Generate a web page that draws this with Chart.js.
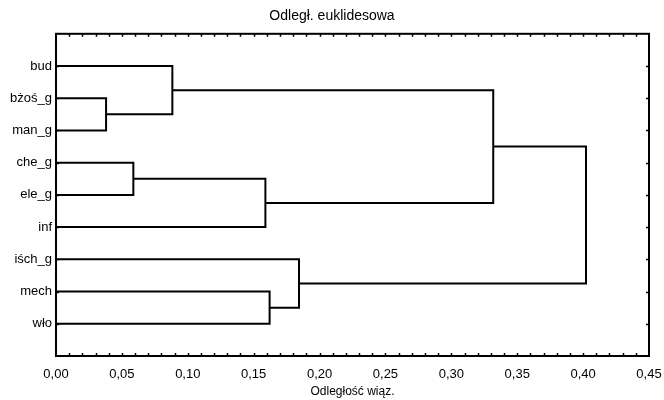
<!DOCTYPE html>
<html>
<head>
<meta charset="utf-8">
<script src="https://cdn.jsdelivr.net/npm/chart.js@4"></script>
<style>
html,body{margin:0;padding:0;background:#fff;}
#wrap{width:664px;height:400px;position:relative;}
</style>
</head>
<body>
<div id="wrap"><canvas id="c"></canvas></div>
<script>
// Leaf labels in plotted order (top to bottom)
const leaves = ['bud', 'bżoś_g', 'man_g', 'che_g', 'ele_g', 'inf', 'iśch_g', 'mech', 'wło'];
// Merge steps: left child, right child (leaf name or merge id 'M1'..), linkage distance
const mergeLeft  = ['bżoś_g', 'che_g', 'bud', 'M2',    'mech',  'iśch_g', 'M3',    'M7'];
const mergeRight = ['man_g',  'ele_g', 'M1',  'inf',   'wło',   'M5',     'M4',    'M6'];
const mergeDist  = [0.0380,   0.0587,  0.0883, 0.1589, 0.1621,  0.1844,   0.3318,  0.4022];
const xTicks = [0, 0.05, 0.10, 0.15, 0.20, 0.25, 0.30, 0.35, 0.40, 0.45];
const chartTitle = 'Odległ. euklidesowa';
const xTitle = 'Odległość wiąz.';

const FONT = 'Liberation Sans, Arial, Helvetica, sans-serif';

// Build node lookup (position along category axis + height)
const nodes = {};
leaves.forEach((n, i) => { nodes[n] = { y: i + 1, h: 0 }; });
const datasets = [];
mergeDist.forEach((d, i) => {
  const L = nodes[mergeLeft[i]], R = nodes[mergeRight[i]];
  datasets.push({
    data: [{x: L.h, y: L.y}, {x: d, y: L.y}, {x: d, y: R.y}, {x: R.h, y: R.y}],
    showLine: true, borderColor: '#000', borderWidth: 2, pointRadius: 0,
    fill: false, tension: 0, borderJoinStyle: 'miter', borderCapStyle: 'butt'
  });
  nodes['M' + (i + 1)] = { y: (L.y + R.y) / 2, h: d };
});

const framePlugin = {
  id: 'frame',
  afterDraw(chart) {
    const ctx = chart.ctx, a = chart.chartArea;
    const xs = chart.scales.x, ys = chart.scales.y;
    ctx.save();
    ctx.strokeStyle = '#000';
    ctx.lineWidth = 1.5;
    ctx.beginPath();
    for (let k = 1; k < 45; k++) {
      const px = Math.round(xs.getPixelForValue(k / 100)) + 0.5;
      ctx.moveTo(px, a.top); ctx.lineTo(px, a.top + 3);
      ctx.moveTo(px, a.bottom); ctx.lineTo(px, a.bottom - 3);
    }
    for (let k = 1; k <= leaves.length; k++) {
      const py = Math.round(ys.getPixelForValue(k)) + 0.5;
      ctx.moveTo(a.left, py); ctx.lineTo(a.left + 3, py);
      ctx.moveTo(a.right, py); ctx.lineTo(a.right - 3, py);
    }
    ctx.stroke();
    ctx.lineWidth = 2;
    ctx.strokeRect(a.left, a.top, a.right - a.left, a.bottom - a.top);
    ctx.restore();
  }
};

new Chart(document.getElementById('c'), {
  type: 'scatter',
  data: { datasets },
  options: {
    responsive: true,
    maintainAspectRatio: false,
    animation: false,
    layout: { padding: 0 },
    plugins: {
      legend: { display: false },
      tooltip: { enabled: false },
      title: {
        display: true, text: chartTitle, color: '#000',
        font: { family: FONT, size: 14, weight: 'normal' },
        padding: { top: 8, bottom: 9 }
      }
    },
    scales: {
      x: {
        type: 'linear', position: 'bottom', min: 0, max: 0.45,
        afterBuildTicks(s) { s.ticks = xTicks.map(v => ({ value: v })); },
        ticks: {
          color: '#000', font: { family: FONT, size: 13 }, padding: 11, maxRotation: 0,
          callback: v => v.toFixed(2).replace('.', ',')
        },
        grid: { display: false, drawTicks: false },
        border: { display: false },
        title: {
          display: true, text: xTitle, color: '#000',
          font: { family: FONT, size: 12 }, padding: { top: 0, bottom: 1 }
        },
        afterFit(s) { s.height = 44; s.paddingLeft = 0; s.paddingRight = 0; }
      },
      y: {
        type: 'linear', position: 'left', min: 0, max: leaves.length + 1, reverse: true,
        afterBuildTicks(s) { s.ticks = leaves.map((n, i) => ({ value: i + 1 })); },
        ticks: {
          color: '#000', font: { family: FONT, size: 13 }, padding: 4,
          callback: v => leaves[v - 1] || ''
        },
        grid: { display: false, drawTicks: false },
        border: { display: false },
        afterFit(s) { s.width = 56; s.paddingTop = 0; s.paddingBottom = 0; }
      },
      yr: {
        type: 'linear', position: 'right', min: 0, max: 10,
        ticks: { display: false },
        grid: { display: false, drawTicks: false },
        border: { display: false },
        afterFit(s) { s.width = 15; }
      }
    }
  },
  plugins: [framePlugin]
});
</script>
</body>
</html>
